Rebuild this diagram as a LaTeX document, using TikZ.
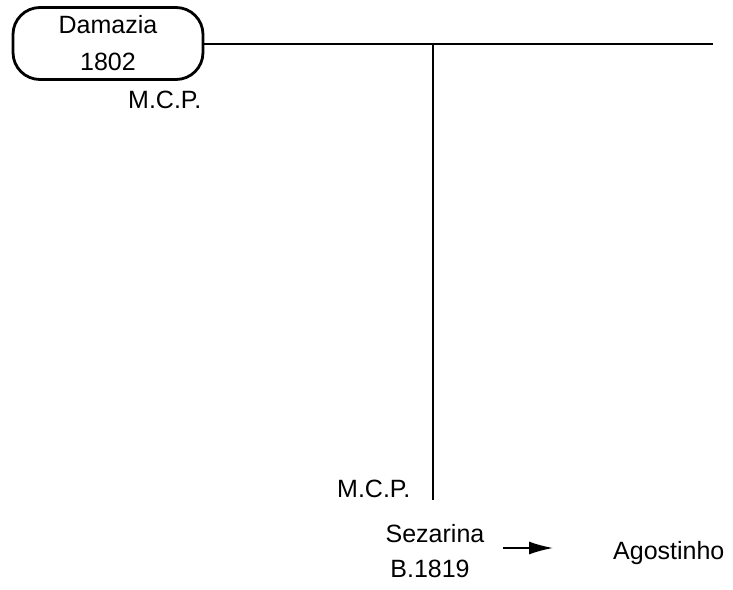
\documentclass[tikz,border=0pt]{standalone}
\usepackage{fontspec}
\setmainfont{Liberation Sans}
\usetikzlibrary{arrows.meta}
\begin{document}
\begin{tikzpicture}[x=1pt,y=-1pt,
  lbl/.style={inner sep=0pt, font=\fontsize{25}{30}\selectfont},
  person/.style={draw, line width=2.8pt, rounded corners=27pt, minimum width=190pt, minimum height=72pt, inner sep=0pt}]
\useasboundingbox (0,0) rectangle (733,589);
\fill[white] (0,0) rectangle (733,589);
\node[person] (dam) at (108,43.5) {};
\node[lbl, anchor=base] (damn) at (108,33) {Damazia};
\node[lbl, anchor=base] (damy) at (108,70) {1802};
\coordinate (hend) at (713,44);
\coordinate (junc) at (433,44);
\coordinate (vend) at (433,500);
\draw[line width=2.8pt] (dam.east |- hend) -- (hend);
\draw[line width=1.3pt] (junc) -- (vend);
\node[lbl, anchor=base west] (mcp1) at (128,108) {M.C.P.};
\node[lbl, anchor=base west] (mcp2) at (337,497) {M.C.P.};
\node[lbl, anchor=base] (sez) at (435,542) {Sezarina};
\node[lbl, anchor=base] (sezb) at (430,577) {B.1819};
\node[lbl, anchor=base west] (ago) at (613,559) {Agostinho};
\coordinate (a1) at (503,548);
\coordinate (a2) at (553,548);
\draw[line width=1.5pt, -{Latex[length=24pt,width=13pt]}] (a1) -- (a2);
\end{tikzpicture}
\end{document}
